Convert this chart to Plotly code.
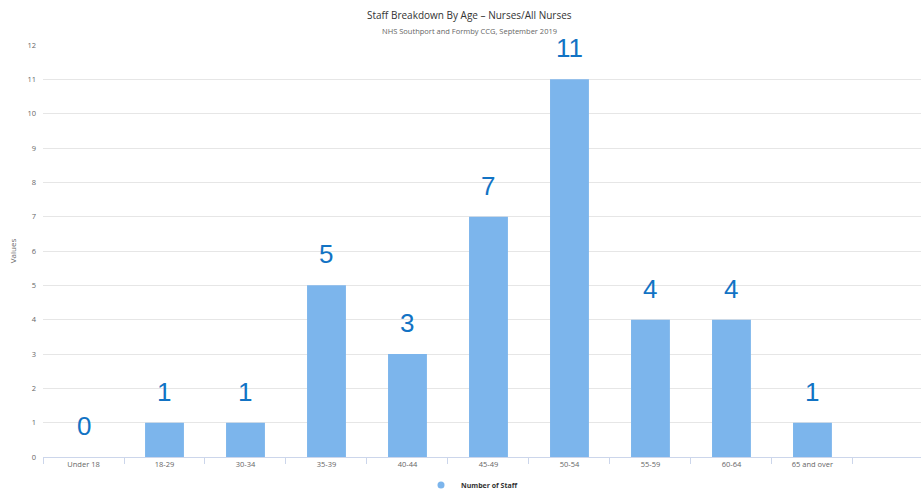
import plotly.graph_objects as go

categories = ["Under 18", "18-29", "30-34", "35-39", "40-44", "45-49",
              "50-54", "55-59", "60-64", "65 and over"]
staff_counts = [0, 1, 1, 5, 3, 7, 11, 4, 4, 1]
y_ticks = list(range(0, 13))

FONT = "Open Sans, DejaVu Sans, sans-serif"

fig = go.Figure()
fig.add_trace(go.Bar(
    x=categories, y=staff_counts, name="Number of Staff",
    marker=dict(color="#7cb5ec", line=dict(width=0)),
    width=0.48, showlegend=False,
))
# legend entry with a round symbol
fig.add_trace(go.Scatter(
    x=[None], y=[None], mode="markers", name="<b>Number of Staff</b>",
    marker=dict(symbol="circle", size=7, color="#7cb5ec"),
    showlegend=True,
))

for c, v in zip(categories, staff_counts):
    fig.add_annotation(x=c, y=v, xref="x", yref="y", text=str(v),
                       showarrow=False, yanchor="bottom", yshift=14,
                       font=dict(family="Liberation Sans, Arial", size=26,
                                 color="#1273c4"))

fig.add_annotation(xref="paper", yref="paper", x=(469 - 43) / 878, y=1,
                   yshift=30, yanchor="middle", showarrow=False,
                   text="Staff Breakdown By Age \u2013 Nurses/All Nurses",
                   font=dict(family=FONT, size=10, color="#333333"))
fig.add_annotation(xref="paper", yref="paper", x=(469 - 43) / 878, y=1,
                   yshift=14, yanchor="middle", showarrow=False,
                   text="NHS Southport and Formby CCG, September 2019",
                   font=dict(family=FONT, size=7.5, color="#666666"))

fig.update_layout(
    width=921, height=489,
    margin=dict(l=43, r=0, t=45, b=32, autoexpand=False),
    paper_bgcolor="white", plot_bgcolor="white",
    font=dict(family=FONT, size=8, color="#666666"),
    xaxis=dict(
        type="category", range=[-0.5, 10.34],
        showgrid=False, showline=True, linecolor="#ccd6eb", linewidth=1,
        ticks="outside", tickson="boundaries", ticklen=6, tickcolor="#ccd6eb",
        tickfont=dict(size=7.5, color="#666666"),
    ),
    yaxis=dict(
        range=[0, 12], tickvals=y_ticks, showgrid=True, gridcolor="#e6e6e6",
        gridwidth=1, zeroline=False, showline=False,
        tickfont=dict(size=7.5, color="#666666"), ticklabelstandoff=6,
        title=dict(text="Values", font=dict(size=8, color="#666666"), standoff=9),
    ),
    legend=dict(orientation="h", x=(472 - 43) / 878, xanchor="center",
                y=-0.068, yanchor="middle",
                font=dict(size=7, color="#333333", family=FONT),
                itemwidth=30, tracegroupgap=0),
    bargap=0.52,
)

fig.write_html("out.html")
